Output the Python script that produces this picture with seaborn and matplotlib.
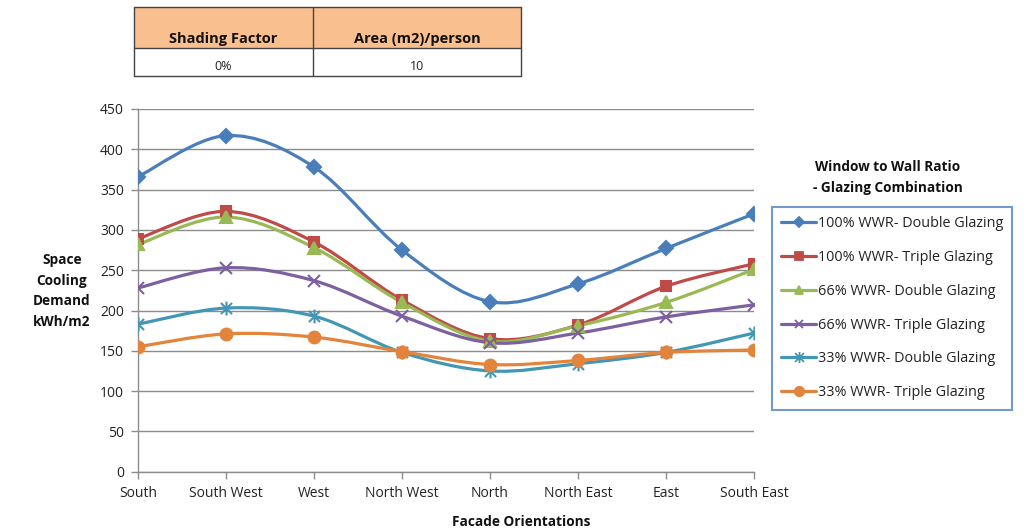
import numpy as np
import matplotlib
matplotlib.use("Agg")
import matplotlib.pyplot as plt
from matplotlib.path import Path
from matplotlib.patches import PathPatch, Rectangle
from matplotlib.lines import Line2D
import seaborn as sns

# Facade orientations on the x axis
orientations = ["South", "South West", "West", "North West",
                "North", "North East", "East", "South East"]

# Space cooling demand (kWh/m2) per window-to-wall ratio / glazing combination
wwr100_double = [366, 417, 378, 275, 211, 233, 277, 320]
wwr100_triple = [289, 323, 285, 213, 165, 182, 230, 258]
wwr66_double = [282, 316, 278, 210, 162, 181, 210, 251]
wwr66_triple = [228, 253, 237, 193, 160, 172, 192, 207]
wwr33_double = [183, 203, 193, 148, 125, 134, 148, 172]
wwr33_triple = [155, 171, 167, 149, 133, 138, 148, 151]

series_labels = ["100% WWR- Double Glazing", "100% WWR- Triple Glazing",
                 "66% WWR- Double Glazing", "66% WWR- Triple Glazing",
                 "33% WWR- Double Glazing", "33% WWR- Triple Glazing"]

# Header table values
table_headers = ["Shading Factor", "Area (m2)/person"]
table_values = ["0%", "10"]

series_values = [wwr100_double, wwr100_triple, wwr66_double,
                 wwr66_triple, wwr33_double, wwr33_triple]
series_colors = ["#4A7EBB", "#BE4B48", "#98B954", "#7D60A0", "#4397B4", "#E2843B"]

# Asterisk marker: an x with a vertical bar through it
star_marker = Path([(-1, -1), (1, 1), (-1, 1), (1, -1), (0, -1.25), (0, 1.25)],
                   [Path.MOVETO, Path.LINETO] * 3)
series_markers = ["D", "s", "^", "x", star_marker, "o"]
marker_sizes = [7, 7, 8, 8, 10, 8.5]

sns.set_theme(style="white")
plt.rcParams["font.family"] = ["Open Sans", "DejaVu Sans"]

W, H = 1030, 531
fig = plt.figure(figsize=(W / 100, H / 100), dpi=100)


def fx(x):
    return x / W


def fy(y):
    return 1 - y / H


ax = fig.add_axes([fx(138), fy(471.7), fx(754) - fx(138), fy(109) - fy(471.7)])


def smooth_path(xs, ys):
    """Cubic Bezier path through the points (Catmull-Rom style tangents)."""
    pts = np.column_stack([xs, ys]).astype(float)
    ext = np.vstack([pts[0], pts, pts[-1]])
    verts = [tuple(pts[0])]
    codes = [Path.MOVETO]
    for i in range(len(pts) - 1):
        p0, p1, p2, p3 = ext[i], ext[i + 1], ext[i + 2], ext[i + 3]
        c1 = p1 + (p2 - p0) / 6.0
        c2 = p2 - (p3 - p1) / 6.0
        verts += [tuple(c1), tuple(c2), tuple(p2)]
        codes += [Path.CURVE4] * 3
    return Path(verts, codes)


xpos = np.arange(len(orientations))
handles = []
for vals, col, mk, ms, lab in zip(series_values, series_colors, series_markers,
                                  marker_sizes, series_labels):
    ax.add_patch(PathPatch(smooth_path(xpos, vals), facecolor="none",
                           edgecolor=col, lw=2.3, zorder=3, capstyle="round"))
    sns.lineplot(x=xpos, y=vals, ax=ax, color=col, marker=mk, markersize=ms,
                 linestyle="none", markeredgecolor=col, markerfacecolor=col,
                 markeredgewidth=1.5, zorder=4)
    handles.append(Line2D([], [], color=col, lw=2.3, marker=mk, markersize=ms * 0.8,
                          markeredgecolor=col, markerfacecolor=col,
                          markeredgewidth=1.3, label=lab))

ax.set_xlim(0, len(orientations) - 1)
ax.set_ylim(0, 450)
ax.set_yticks(np.arange(0, 451, 50))
ax.set_xticks(xpos)
ax.set_xticklabels(orientations)
ax.yaxis.grid(True, color="#8C8C8C", lw=1)
ax.set_axisbelow(True)
for side in ["top", "right"]:
    ax.spines[side].set_visible(False)
for side in ["left", "bottom"]:
    ax.spines[side].set_color("#8C8C8C")
    ax.spines[side].set_linewidth(1)
ax.tick_params(axis="both", which="major", length=5, width=1, color="#8C8C8C",
               labelsize=10, labelcolor="#222222", direction="out",
               left=True, bottom=True, pad=5)
ax.set_xlabel("")
ax.set_ylabel("")

# Axis titles
fig.text(fx(62), fy(291), "Space\nCooling\nDemand\nkWh/m2", ha="center", va="center",
         fontsize=9.8, fontweight="bold", linespacing=1.6, color="#111111")
fig.text(fx(521), fy(522), "Facade Orientations", ha="center", va="center",
         fontsize=9.8, fontweight="bold", color="#111111")

# Legend with its title above the box
fig.text(fx(888), fy(177.5), "Window to Wall Ratio\n- Glazing Combination",
         ha="center", va="center", fontsize=9.8, fontweight="bold",
         linespacing=1.6, color="#111111")
leg = fig.legend(handles=handles, loc="upper left",
                 bbox_to_anchor=(fx(772), fy(207)), bbox_transform=fig.transFigure,
                 fontsize=10.4, frameon=True, fancybox=False, handlelength=2.4,
                 handletextpad=0.1, labelspacing=1.3, borderpad=0.65,
                 borderaxespad=0, labelcolor="#222222")
leg.get_frame().set_edgecolor("#4F81BD")
leg.get_frame().set_linewidth(1.5)

# Header table above the chart
tx0, tx1, tmid = 134, 521, 313
ty0, ty1, ty2 = 7, 48, 76
fig.add_artist(Rectangle((fx(tx0), fy(ty1)), fx(tx1) - fx(tx0), fy(ty0) - fy(ty1),
                         transform=fig.transFigure, facecolor="#FABF8F",
                         edgecolor="none"))
border = dict(transform=fig.transFigure, color="#444444", lw=1)
for yy in (ty0, ty1, ty2):
    fig.add_artist(Line2D([fx(tx0), fx(tx1)], [fy(yy), fy(yy)], **border))
for xx in (tx0, tmid, tx1):
    fig.add_artist(Line2D([fx(xx), fx(xx)], [fy(ty0), fy(ty2)], **border))
col_centers = [(tx0 + tmid) / 2, (tmid + tx1) / 2]
for cx, head, val in zip(col_centers, table_headers, table_values):
    fig.text(fx(cx), fy(39), head, ha="center", va="center", fontsize=10.5,
             fontweight="bold", color="#111111")
    fig.text(fx(cx), fy(67), val, ha="center", va="center", fontsize=9,
             color="#222222")

fig.savefig("out.png", dpi=100)
